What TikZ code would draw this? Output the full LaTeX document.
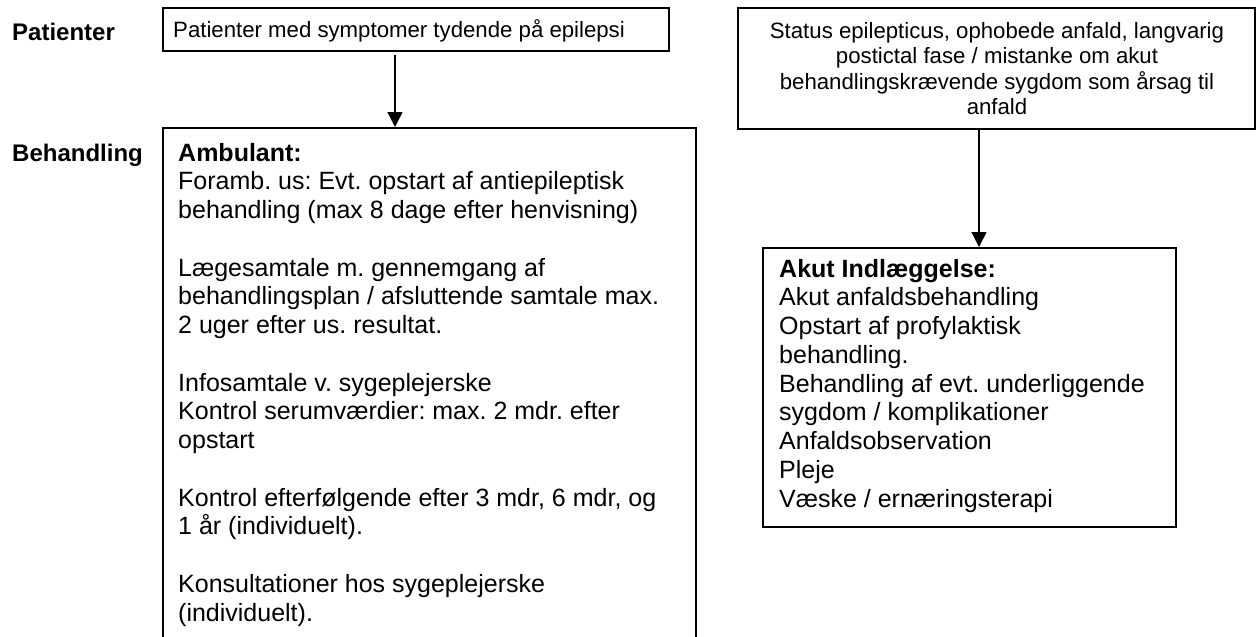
\documentclass[tikz,border=0pt]{standalone}
\usepackage{fontspec}
\setmainfont{Liberation Sans}
\usetikzlibrary{arrows.meta}
\frenchspacing
\begin{document}
\begin{tikzpicture}[x=1pt,y=-1pt,
  box/.style={draw, line width=1.5pt, inner sep=0pt, anchor=north west},
  lab/.style={anchor=base west, inner sep=0pt, font=\fontsize{24}{27.6}\selectfont\bfseries},
  body/.style={anchor=north west, inner sep=0pt, align=left, font=\fontsize{25}{28.75}\selectfont},
  small/.style={inner sep=0pt, font=\fontsize{22.2}{25.5}\selectfont},
  arr/.style={line width=1.5pt, -{Triangle[length=15pt,width=15pt]}}]
\clip (0,0) rectangle (1258,637);
\fill[white] (0,0) rectangle (1258,637);
% labels
\node[lab] (lpat) at (12,40) {Patienter};
\node[lab] (lbeh) at (12,161) {Behandling};
% boxes
\node[box, minimum width=506pt, minimum height=43pt] (b1) at (162,7) {};
\node[box, minimum width=533pt, minimum height=523pt] (amb) at (162,127) {};
\node[box, minimum width=517pt, minimum height=121pt] (st) at (737,7) {};
\node[box, minimum width=413pt, minimum height=279pt] (ak) at (762,247) {};
% texts
\node[small, anchor=base west] (t1) at (173,37) {Patienter med symptomer tydende på epilepsi};
\node[small, anchor=north, align=center] (tst) at (997,20.1) {\strut Status epilepticus, ophobede anfald, langvarig\\postictal fase / mistanke om akut\\behandlingskrævende sygdom som årsag til\\anfald};
\node[body] (tamb) at (178,140.9) {\strut\textbf{Ambulant:}\\
Foramb. us: Evt. opstart af antiepileptisk\\
behandling (max 8 dage efter henvisning)\\[28.75pt]
Lægesamtale m. gennemgang af\\
behandlingsplan / afsluttende samtale max.\\
2 uger efter us. resultat.\\[28.75pt]
Infosamtale v. sygeplejerske\\
Kontrol serumværdier: max. 2 mdr. efter\\
opstart\\[28.75pt]
Kontrol efterfølgende efter 3 mdr, 6 mdr, og\\
1 år (individuelt).\\[28.75pt]
Konsultationer hos sygeplejerske\\
(individuelt).};
\node[body] (tak) at (779,256.9) {\strut\textbf{Akut Indlæggelse:}\\
Akut anfaldsbehandling\\
Opstart af profylaktisk\\
behandling.\\
Behandling af evt. underliggende\\
sygdom / komplikationer\\
Anfaldsobservation\\
Pleje\\
Væske / ernæringsterapi};
% arrows
\coordinate (a1) at (395,55);
\coordinate (a2) at (979,128);
\draw[arr] (a1) -- (a1 |- amb.north);
\draw[arr] (a2) -- (a2 |- ak.north);
\end{tikzpicture}
\end{document}
